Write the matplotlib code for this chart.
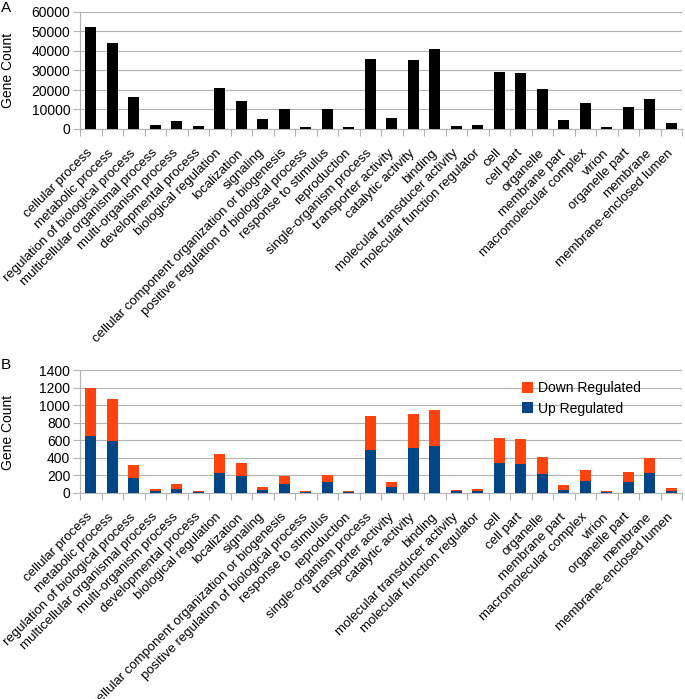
#!/usr/bin/env python3
"""GO term gene counts: (A) all genes, (B) differentially expressed, split up/down."""
import matplotlib
matplotlib.use("Agg")
import matplotlib.pyplot as plt
import numpy as np

plt.rcParams["font.family"] = ["Liberation Sans", "DejaVu Sans"]
plt.rcParams["font.size"] = 10

categories = [
    "cellular process", "metabolic process", "regulation of biological process",
    "multicellular organismal process", "multi-organism process",
    "developmental process", "biological regulation", "localization", "signaling",
    "cellular component organization or biogenesis",
    "positive regulation of biological process", "response to stimulus",
    "reproduction", "single-organism process", "transporter activity",
    "catalytic activity", "binding", "molecular transducer activity",
    "molecular function regulator", "cell", "cell part", "organelle",
    "membrane part", "macromolecular complex", "virion", "organelle part",
    "membrane", "membrane-enclosed lumen",
]

# panel A: total gene count per term
all_counts = [
    52100, 43900, 16400, 2000, 3900, 1400, 21000, 14500, 5100, 10400,
    1200, 10200, 1200, 35900, 5600, 35600, 40900, 1400, 2000, 29200,
    28700, 20300, 4400, 13300, 1000, 11100, 15400, 3100,
]

# panel B: DEGs per term
up_counts = [
    654, 593, 171, 24, 46, 11, 228, 194, 38, 103,
    11, 122, 15, 487, 68, 510, 536, 19, 20, 339,
    331, 221, 38, 137, 15, 129, 228, 27,
]
total_deg = [
    1198, 1065, 323, 42, 103, 23, 445, 342, 65, 198,
    19, 209, 27, 882, 126, 894, 940, 30, 49, 628,
    612, 411, 87, 262, 27, 236, 399, 57,
]
down_counts = [t - u for t, u in zip(total_deg, up_counts)]

UP_COLOR = "#004586"
DOWN_COLOR = "#ff420e"
GRID = "#b3b3b3"

W, H = 685, 699
fig = plt.figure(figsize=(W / 100, H / 100), dpi=100)


def frac_box(left, top, right, bottom):
    return [left / W, 1 - bottom / H, (right - left) / W, (bottom - top) / H]


def style_axes(ax, ymax, ystep):
    x = np.arange(len(categories))
    ax.set_xlim(-0.5, len(categories) - 0.5)
    ax.set_ylim(0, ymax)
    ax.set_yticks(np.arange(0, ymax + 1, ystep))
    ax.set_xticks(x)
    ax.set_xticklabels(categories, rotation=45, ha="right", va="center",
                       rotation_mode="anchor", fontsize=9.5)
    ax.set_xticks(np.arange(-0.5, len(categories)), minor=True)
    ax.tick_params(axis="x", which="major", length=0, pad=16)
    ax.tick_params(axis="x", which="minor", length=5, color=GRID, width=0.8)
    ax.tick_params(axis="y", length=5, color=GRID, width=0.8, pad=2)
    ax.grid(axis="y", color=GRID, linewidth=0.8)
    ax.set_axisbelow(True)
    for s in ("top", "right"):
        ax.spines[s].set_visible(False)
    for s in ("left", "bottom"):
        ax.spines[s].set_color(GRID)
        ax.spines[s].set_linewidth(0.8)
    return x


# ── Panel A ──
axA = fig.add_axes(frac_box(80, 12, 682, 129))
x = style_axes(axA, 60000, 10000)
axA.bar(x, all_counts, width=0.5, color="black", zorder=3)
fig.text(8 / W, 1 - 70 / H, "Gene Count", rotation=90, ha="center", va="center", fontsize=10)
fig.text(1 / W, 1 - 1 / H, "A", ha="left", va="top", fontsize=11)

# ── Panel B ──
axB = fig.add_axes(frac_box(80, 370, 682, 493))
x = style_axes(axB, 1400, 200)
axB.bar(x, up_counts, width=0.5, color=UP_COLOR, zorder=3, label="Up Regulated")
axB.bar(x, down_counts, width=0.5, bottom=up_counts, color=DOWN_COLOR, zorder=3,
        label="Down Regulated")
handles, labels = axB.get_legend_handles_labels()
axB.legend(handles[::-1], labels[::-1], loc="upper left", bbox_to_anchor=(0.713, 1.01),
           frameon=False, handlelength=0.8, handleheight=0.8, handletextpad=0.4,
           labelspacing=0.45, fontsize=10)
fig.text(8 / W, 1 - 432 / H, "Gene Count", rotation=90, ha="center", va="center", fontsize=10)
fig.text(1 / W, 1 - 358 / H, "B", ha="left", va="top", fontsize=11)

fig.savefig("out.png", dpi=100)
